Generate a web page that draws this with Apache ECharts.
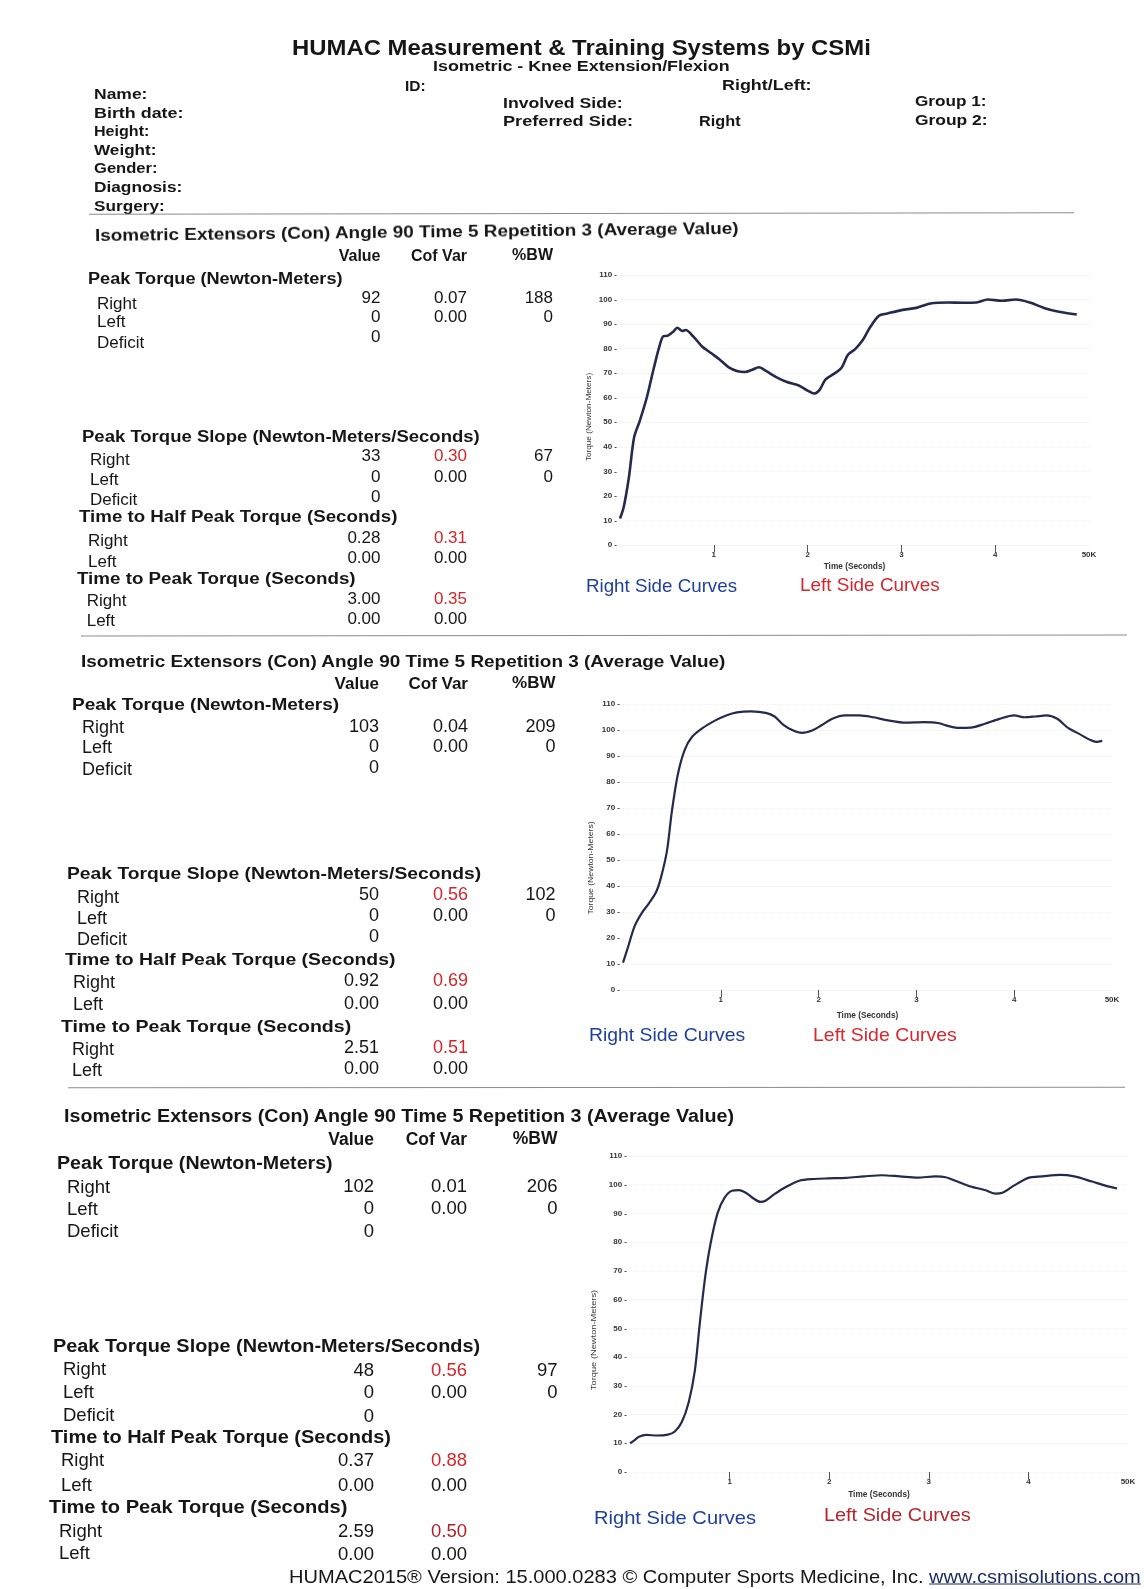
<!DOCTYPE html>
<html>
<head>
<meta charset="utf-8">
<title>HUMAC Isometric - Knee Extension/Flexion</title>
<script src="https://cdn.jsdelivr.net/npm/echarts@6/dist/echarts.min.js"></script>
<style>
  html, body { margin: 0; padding: 0; background: #fff; }
  #page { position: relative; width: 1144px; height: 1589px; overflow: hidden;
          font-family: 'Liberation Sans', Arial, sans-serif; color: #161616; }
  #curves { position: absolute; left: 0; top: 0; width: 1144px; height: 1589px; }
  .t { position: absolute; white-space: nowrap; line-height: 1; }
  .rule { position: absolute; height: 0; border-top: 1.5px solid #8c8c8c; }
</style>
</head>
<body>
<div id="page"><div id="curves"></div></div>
<script>
// ---- data ----
const sectionTitle = 'Isometric Extensors (Con) Angle 90 Time 5 Repetition 3 (Average Value)';
const blockTitles = ['Peak Torque (Newton-Meters)', 'Peak Torque Slope (Newton-Meters/Seconds)',
  'Time to Half Peak Torque (Seconds)', 'Time to Peak Torque (Seconds)'];
const rowLabels = ['Right', 'Left', 'Deficit'];

const peakTorqueValue = [['92', '0', '0'], ['103', '0', '0'], ['102', '0', '0']];
const peakTorqueCofVar = [['0.07', '0.00'], ['0.04', '0.00'], ['0.01', '0.00']];
const peakTorqueBW = [['188', '0'], ['209', '0'], ['206', '0']];
const slopeValue = [['33', '0', '0'], ['50', '0', '0'], ['48', '0', '0']];
const slopeCofVar = [['0.30', '0.00'], ['0.56', '0.00'], ['0.56', '0.00']];
const slopeBW = [['67', '0'], ['102', '0'], ['97', '0']];
const halfPeakTime = [['0.28', '0.00'], ['0.92', '0.00'], ['0.37', '0.00']];
const halfPeakCofVar = [['0.31', '0.00'], ['0.69', '0.00'], ['0.88', '0.00']];
const peakTime = [['3.00', '0.00'], ['2.51', '0.00'], ['2.59', '0.00']];
const peakTimeCofVar = [['0.35', '0.00'], ['0.51', '0.00'], ['0.50', '0.00']];

// torque curves, [seconds, newton-meters]
const curve1 = [[0, 10.8], [0.04, 15.5], [0.095, 27.6], [0.15, 43.8], [0.21, 50.5], [0.285, 60], [0.36, 72],
  [0.42, 80.9], [0.46, 85], [0.51, 85.3], [0.57, 87], [0.61, 88.5], [0.665, 87.2], [0.7, 87.6], [0.78, 85],
  [0.875, 80.9], [0.97, 78.2], [1.065, 75.5], [1.16, 72.4], [1.255, 70.8], [1.33, 70.5], [1.41, 71.4],
  [1.48, 72.4], [1.56, 70.8], [1.67, 68.3], [1.78, 66.4], [1.9, 65.1], [2.0, 62.9], [2.07, 61.7], [2.13, 63.3],
  [2.19, 67.4], [2.28, 69.7], [2.36, 72.1], [2.43, 77.5], [2.51, 79.9], [2.59, 83.6], [2.66, 88.3], [2.76, 93.4],
  [2.85, 94.3], [3.0, 95.7], [3.16, 96.6], [3.31, 98.4], [3.5, 98.8], [3.65, 98.7], [3.8, 98.8], [3.92, 100],
  [4.07, 99.5], [4.22, 100], [4.37, 98.8], [4.52, 96.6], [4.68, 95], [4.87, 93.9]];
const curve2 = [[0, 10.5], [0.044, 15.6], [0.118, 24.5], [0.19, 29.5], [0.265, 33.3], [0.34, 37.8], [0.39, 43.5],
  [0.45, 53.6], [0.5, 68.8], [0.56, 82.8], [0.63, 92.3], [0.705, 97.3], [0.816, 100.8], [0.945, 103.7],
  [1.055, 105.6], [1.165, 106.8], [1.31, 107.2], [1.46, 106.6], [1.55, 105.2], [1.64, 102], [1.735, 99.9],
  [1.83, 98.9], [1.94, 99.9], [2.03, 101.8], [2.14, 104.3], [2.27, 105.6], [2.415, 105.6], [2.56, 104.9],
  [2.71, 103.7], [2.89, 102.8], [3.08, 103], [3.22, 102.7], [3.33, 101.5], [3.44, 100.8], [3.555, 100.9],
  [3.7, 102.4], [3.85, 104.3], [4.0, 105.6], [4.106, 104.9], [4.217, 105.2], [4.33, 105.6], [4.44, 104.3],
  [4.55, 100.8], [4.66, 98.6], [4.77, 96.3], [4.84, 95.4], [4.9, 95.8]];
const curve3 = [[0, 10], [0.05, 11.2], [0.09, 12.3], [0.165, 12.9], [0.27, 12.7], [0.38, 13], [0.45, 14.1],
  [0.52, 17.4], [0.59, 24.4], [0.65, 35], [0.7, 51.5], [0.755, 67.9], [0.81, 79.7], [0.88, 90.2], [0.95, 95.5],
  [1.024, 97.9], [1.095, 98.1], [1.167, 97.1], [1.24, 95.2], [1.31, 94], [1.36, 94.4], [1.45, 96.7], [1.56, 99.1],
  [1.7, 101.4], [1.85, 102], [1.99, 102.2], [2.17, 102.4], [2.35, 102.9], [2.53, 103.3], [2.71, 102.9],
  [2.89, 102.5], [3.065, 102.9], [3.17, 102.6], [3.28, 101.2], [3.42, 99.4], [3.57, 98.1], [3.67, 96.9],
  [3.745, 97.3], [3.85, 99.6], [4.0, 102.4], [4.14, 102.9], [4.32, 103.4], [4.46, 102.9], [4.64, 101.1],
  [4.78, 99.6], [4.89, 98.7]];
const curves = [curve1, curve2, curve3];
const timeTicks = [1, 2, 3, 4];
const timeLabels = ['1', '2', '3', '4', '50K'];

// ---- page layout ----
const W = 1144;
const page = document.getElementById('page');

function put(x, y, s, o = {}) {
  const d = document.createElement('div');
  d.className = 't';
  d.textContent = s;
  d.style.fontSize = (o.size || 17.5) + 'px';
  d.style.fontWeight = o.bold ? 'bold' : 'normal';
  if (o.color) d.style.color = o.color;
  d.style.top = y + 'px';
  if (o.right) { d.style.right = (W - x) + 'px'; d.style.transformOrigin = 'right center'; }
  else { d.style.left = x + 'px'; d.style.transformOrigin = 'left center'; }
  page.appendChild(d);
  const k = o.w ? o.w / d.offsetWidth : 1;
  d.style.transform = 'translateY(-50%) scaleX(' + k.toFixed(3) + ')' + (o.rot ? ' rotate(' + o.rot + 'deg)' : '');
  return d;
}
function rule(x1, x2, y, rot) {
  const d = document.createElement('div');
  d.className = 'rule';
  d.style.left = x1 + 'px';
  d.style.width = (x2 - x1) + 'px';
  d.style.top = y + 'px';
  if (rot) d.style.transform = 'rotate(' + rot + 'deg)';
  page.appendChild(d);
}
function vtitle(cx, cy, s, len) {
  const d = document.createElement('div');
  d.className = 't';
  d.textContent = s;
  d.style.fontSize = '8px';
  d.style.color = '#333';
  page.appendChild(d);
  const k = len / d.offsetWidth;
  d.style.left = (cx - d.offsetWidth / 2) + 'px';
  d.style.top = (cy - 4) + 'px';
  d.style.transform = 'rotate(-90deg) scaleX(' + k.toFixed(3) + ')';
}

// header
put(292, 47.6, 'HUMAC Measurement & Training Systems by CSMi', {bold: true, size: 22, w: 579});
put(433, 66, 'Isometric - Knee Extension/Flexion', {bold: true, size: 14, w: 297});
put(405, 86, 'ID:', {bold: true, size: 15.5});
put(721.5, 85, 'Right/Left:', {bold: true, size: 15.5, w: 89});
[['Name:', 94, 53], ['Birth date:', 112.5, 90], ['Height:', 130.7, 55], ['Weight:', 150, 63],
 ['Gender:', 168, 63], ['Diagnosis:', 186.5, 88], ['Surgery:', 205.7, 71]].forEach(r =>
  put(94, r[1], r[0], {bold: true, size: 15.5, w: r[2]}));
put(502.6, 103, 'Involved Side:', {bold: true, size: 15.5, w: 119.6});
put(502.6, 120.6, 'Preferred Side:', {bold: true, size: 15.5, w: 130});
put(699, 120.6, 'Right', {size: 15.5, bold: true, w: 42});
put(915, 101, 'Group 1:', {bold: true, size: 15.5, w: 72});
put(915, 119.6, 'Group 2:', {bold: true, size: 15.5, w: 73});
rule(89, 1074, 213, -0.1);

// the three report sections
const sections = [
  {title: [95, 236, 643], rot: -0.75, colY: 256, vx: 380.5, cx: 467, bx: 553, size: 17,
   blocks: [
     {hdr: [88, 279, 255], labX: 97, labY: [302.5, 321, 341.5], valY: [296.5, 316, 336]},
     {hdr: [81.7, 437, 398], labX: 90, labY: [459, 479, 499], valY: [455, 475.5, 495.5]},
     {hdr: [79, 517, 318], labX: 88, labY: [540, 560.5], valY: [536.5, 557]},
     {hdr: [77.3, 579, 279], labX: 86.7, labY: [600, 620], valY: [598, 618]}]},
  {title: [81, 660.7, 644], rot: 0, colY: 683, vx: 379, cx: 468, bx: 555.5, size: 18,
   blocks: [
     {hdr: [72, 704, 267.5], labX: 82, labY: [726.5, 747, 769], valY: [725.5, 746, 767]},
     {hdr: [67, 872.5, 414], labX: 77, labY: [897, 918, 939], valY: [893.7, 915, 936]},
     {hdr: [65, 958.6, 330], labX: 73, labY: [982, 1004], valY: [980, 1003]},
     {hdr: [61, 1025.5, 290.6], labX: 72, labY: [1049, 1070], valY: [1047, 1068]}]},
  {title: [64, 1116.7, 670.6], rot: 0, colY: 1140, vx: 374, cx: 467, bx: 557.5, size: 18.5,
   blocks: [
     {hdr: [57, 1164, 276], labX: 67, labY: [1186.6, 1209, 1231], valY: [1185.6, 1208, 1231]},
     {hdr: [53, 1346.7, 427], labX: 63, labY: [1369, 1392, 1414.6], valY: [1370, 1392, 1415.6]},
     {hdr: [51, 1438, 340], labX: 61, labY: [1460, 1484.5], valY: [1460, 1484.5]},
     {hdr: [49, 1508, 298.6], labX: 59, labY: [1531, 1553], valY: [1531, 1554]}]}
];

const RED = '#d3262b';
sections.forEach((L, i) => {
  put(L.title[0], L.title[1], sectionTitle, {bold: true, size: L.size - 1, w: L.title[2], rot: L.rot});
  put(L.vx, L.colY, 'Value', {bold: true, right: true, size: L.size - 1});
  put(L.cx, L.colY, 'Cof Var', {bold: true, right: true, size: L.size - 1});
  put(L.bx, L.colY - 1, '%BW', {bold: true, right: true, size: L.size - 1});
  const cols = [
    {value: peakTorqueValue[i], cof: peakTorqueCofVar[i], bw: peakTorqueBW[i], red: false},
    {value: slopeValue[i], cof: slopeCofVar[i], bw: slopeBW[i], red: true},
    {value: halfPeakTime[i], cof: halfPeakCofVar[i], red: true},
    {value: peakTime[i], cof: peakTimeCofVar[i], red: true}
  ];
  L.blocks.forEach((B, b) => {
    const c = cols[b];
    put(B.hdr[0], B.hdr[1], blockTitles[b], {bold: true, size: L.size - 1, w: B.hdr[2]});
    B.labY.forEach((ly, r) => {
      put(B.labX, ly, rowLabels[r], {size: L.size});
      put(L.vx, B.valY[r], c.value[r], {size: L.size, right: true});
      if (r < 2) {
        const red = c.red && r === 0;
        put(L.cx, B.valY[r], c.cof[r], {size: L.size, right: true,
          color: red ? (i === 2 && b === 3 ? '#b0222a' : RED) : null});
        if (c.bw) put(L.bx, B.valY[r], c.bw[r], {size: L.size, right: true});
      }
    });
  });
});
rule(81, 1127, 634.5, -0.05);
rule(68, 1125, 1086.5, -0.02);

// curve legends + rotated axis titles
const legendPos = [
  {r: [585.7, 586, 151], l: [800, 585, 140], lc: '#d8262c'},
  {r: [588.7, 1034.6, 156], l: [812.7, 1034.6, 144], lc: '#d8262c'},
  {r: [594, 1518, 162], l: [824, 1515, 147], lc: '#b8242c'}
];
legendPos.forEach(p => {
  put(p.r[0], p.r[1], 'Right Side Curves', {size: 18.5, color: '#1f3f9c', w: p.r[2]});
  put(p.l[0], p.l[1], 'Left Side Curves', {size: 18.5, color: p.lc, w: p.l[2]});
});
vtitle(589, 417, 'Torque (Newton-Meters)', 88);
vtitle(590.5, 868, 'Torque (Newton-Meters)', 93);
vtitle(593.5, 1340, 'Torque (Newton-Meters)', 100);

// footer
const foot = put(289, 1576, 'HUMAC2015\u00ae Version: 15.000.0283 \u00a9 Computer Sports Medicine, Inc. ', {size: 19});
const link = document.createElement('span');
link.textContent = 'www.csmisolutions.com';
link.style.textDecoration = 'underline';
link.style.color = '#1b2a5e';
foot.appendChild(link);
foot.style.transform = 'translateY(-50%) scaleX(' + (851 / foot.offsetWidth).toFixed(3) + ')';

// ---- the three torque charts ----
const grids = [
  {left: 620, top: 275, width: 469, height: 270},
  {left: 623, top: 704, width: 489, height: 286},
  {left: 630, top: 1156, width: 498, height: 316}
];
const nameGaps = [18, 22, 19];
const axisText = {fontSize: 8, fontWeight: 'bold', color: '#333', fontFamily: 'Liberation Sans'};

const chart = echarts.init(document.getElementById('curves'));
chart.setOption({
  animation: false,
  grid: grids,
  xAxis: grids.map((g, i) => ({
    gridIndex: i, type: 'value', min: 0, max: 5, interval: 1,
    axisLine: {show: false},
    axisTick: {show: true, customValues: timeTicks, length: 7, lineStyle: {color: '#555', width: 1}},
    axisLabel: Object.assign({customValues: [1, 2, 3, 4, 5], margin: 6,
      formatter: v => timeLabels[Math.round(v) - 1]}, axisText),
    splitLine: {show: false},
    name: 'Time (Seconds)', nameLocation: 'middle', nameGap: nameGaps[i],
    nameTextStyle: {fontSize: 8.3, fontWeight: 'bold', color: '#333', fontFamily: 'Liberation Sans'}
  })),
  yAxis: grids.map((g, i) => ({
    gridIndex: i, type: 'value', min: 0, max: 110, interval: 10,
    axisLine: {show: false},
    axisTick: {show: false},
    axisLabel: Object.assign({formatter: '{value} -', margin: 3}, axisText),
    splitLine: {show: true, lineStyle: {color: '#efefef', type: 'dotted'}}
  })),
  series: curves.map((c, i) => ({
    type: 'line', xAxisIndex: i, yAxisIndex: i, data: c,
    showSymbol: false, smooth: 0.3, silent: true,
    lineStyle: {color: '#242a4c', width: i === 0 ? 2.6 : 2.2}
  }))
});
</script>
</body>
</html>
